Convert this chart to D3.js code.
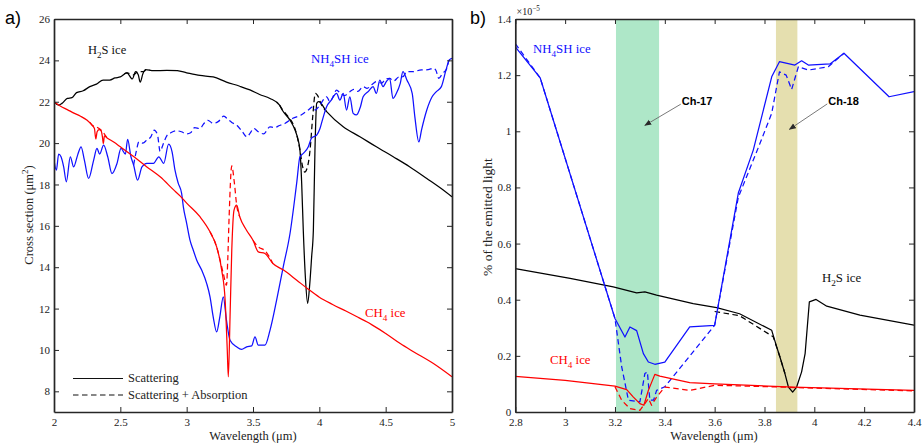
<!DOCTYPE html>
<html><head><meta charset="utf-8">
<script src="https://cdn.jsdelivr.net/npm/d3@7/dist/d3.min.js"></script>
<style>body{margin:0;background:#fff}svg{display:block}</style>
</head><body>
<svg id="c" width="924" height="447"></svg>
<script>
// ---------------- DATA: panel a) cross sections (wavelength µm, µm²) ----------------
const aH2S_scat = [[2.0,22.0],[2.035,21.84],[2.06,21.92],[2.10,22.16],[2.135,22.2],[2.17,22.44],[2.22,22.53],[2.27,22.73],[2.32,22.85],[2.37,23.05],[2.42,23.05],[2.46,23.15],[2.50,23.2],[2.55,23.4],[2.59,23.1],[2.615,23.45],[2.635,23.3],[2.65,22.95],[2.67,23.35],[2.69,23.55],[2.75,23.5],[2.85,23.52],[2.93,23.5],[3.0,23.4],[3.1,23.27],[3.2,23.2],[3.3,22.95],[3.4,22.75],[3.477,22.57],[3.55,22.35],[3.628,22.16],[3.70,21.84],[3.72,21.6],[3.78,21.1],[3.817,20.63],[3.84,20.15],[3.854,19.66],[3.867,18.05],[3.879,15.79],[3.895,13.5],[3.912,12.25],[3.928,13.2],[3.942,14.5],[3.955,15.79],[3.967,19.66],[3.98,21.92],[3.995,22.0],[4.055,21.52],[4.18,20.79],[4.306,20.31],[4.43,19.82],[4.557,19.34],[4.68,18.86],[4.81,18.29],[4.934,17.73],[5.0,17.4]];
const aH2S_abs = [[2.53,23.35],[2.55,23.4],[2.6,23.3],[2.63,23.45],[2.67,23.45],[2.70,23.55],[2.72,23.52],
  null,[3.70,21.84],[3.716,21.68],[3.766,21.27],[3.80,20.95],[3.83,20.4],[3.854,19.66],[3.874,18.86],[3.89,18.6],[3.907,18.77],[3.93,19.66],[3.95,21.27],[3.97,22.4],[3.985,22.32],[4.017,21.84],[4.055,21.52]];
const aCH4_scat = [[2.0,22.0],[2.05,21.78],[2.1,21.62],[2.15,21.45],[2.2,21.3],[2.25,21.1],[2.29,20.85],[2.305,20.7],[2.315,20.2],[2.325,20.55],[2.34,20.65],[2.355,20.6],[2.365,20.3],[2.372,19.98],[2.38,20.35],[2.4,20.25],[2.45,20.05],[2.5,19.82],[2.6,19.35],[2.7,18.85],[2.8,18.37],[2.9,17.75],[2.95,17.45],[3.0,17.1],[3.1,16.44],[3.176,15.71],[3.226,14.98],[3.264,13.86],[3.29,12.4],[3.306,10.0],[3.314,8.7],[3.327,11.6],[3.34,14.82],[3.357,16.76],[3.377,17.0],[3.40,16.44],[3.45,15.8],[3.50,15.3],[3.54,14.74],[3.59,14.66],[3.65,14.18],[3.73,13.86],[3.83,13.37],[3.91,12.97],[4.0,12.55],[4.1,12.2],[4.2,11.88],[4.3,11.55],[4.357,11.36],[4.4,11.2],[4.5,10.8],[4.61,10.31],[4.7,9.95],[4.86,9.34],[5.0,8.7]];
const aCH4_abs = [[2.27,21.0],[2.29,20.85],[2.32,20.78],[2.36,20.6],[2.4,20.25],null,
  [3.176,15.71],[3.226,14.98],[3.276,13.7],[3.30,13.13],[3.31,14.4],[3.32,16.44],[3.34,18.9],[3.36,18.05],[3.377,17.0],[3.40,16.44],null,
  [3.50,15.3],[3.54,14.98],[3.59,14.8],[3.65,14.18]];
const aNH4SH_scat = [[2.0,19.18],[2.018,18.69],[2.035,19.47],[2.053,19.34],[2.073,18.85],[2.093,18.13],[2.123,19.34],[2.148,18.85],[2.178,19.42],[2.204,19.82],[2.229,19.18],[2.261,18.29],[2.299,19.18],[2.324,19.74],[2.344,19.47],[2.374,19.9],[2.405,19.34],[2.437,18.53],[2.475,19.02],[2.505,19.74],[2.538,19.47],[2.555,20.18],[2.58,19.34],[2.60,18.94],[2.63,18.21],[2.663,18.85],[2.70,19.02],[2.75,19.02],[2.79,19.34],[2.827,19.02],[2.864,19.95],[2.89,19.58],[2.912,18.69],[2.937,18.05],[2.962,17.57],[2.975,16.92],[3.0,16.12],[3.025,15.31],[3.05,14.82],[3.076,14.34],[3.113,13.86],[3.151,13.21],[3.176,12.57],[3.2,11.6],[3.226,10.87],[3.25,11.6],[3.276,12.57],[3.30,11.44],[3.327,10.47],[3.377,10.15],[3.414,10.03],[3.452,10.15],[3.49,10.2],[3.515,10.63],[3.54,10.23],[3.59,10.23],[3.628,10.95],[3.678,12.41],[3.728,14.02],[3.779,15.63],[3.829,18.05],[3.854,19.34],[3.879,19.5],[3.917,19.82],[3.94,20.23],[3.98,20.39],[4.005,20.71],[4.03,21.27],[4.055,21.76],[4.09,22.08],[4.13,22.4],[4.155,22.08],[4.18,22.4],[4.205,21.6],[4.23,22.24],[4.255,21.44],[4.28,21.36],[4.31,21.76],[4.33,22.24],[4.37,22.5],[4.405,22.73],[4.43,22.4],[4.456,23.05],[4.48,22.73],[4.505,22.97],[4.53,23.13],[4.555,22.16],[4.58,22.4],[4.61,22.89],[4.63,23.46],[4.66,23.05],[4.70,22.4],[4.72,21.27],[4.75,20.06],[4.77,20.63],[4.81,21.6],[4.85,22.24],[4.88,22.48],[4.92,22.73],[4.955,23.54],[4.98,24.02],[5.0,24.1]];
const aNH4SH_abs = [[2.60,18.94],[2.62,19.6],[2.64,20.06],[2.67,20.0],[2.70,20.15],[2.73,20.3],[2.755,20.63],[2.78,20.4],[2.80,19.6],[2.82,19.9],[2.85,20.35],[2.88,20.5],[2.92,20.6],[2.96,20.55],[3.0,20.45],[3.03,20.5],[3.06,20.75],[3.1,20.7],[3.13,20.95],[3.16,21.1],[3.2,20.95],[3.24,21.05],[3.28,21.3],[3.31,21.15],[3.34,21.0],[3.38,20.85],[3.42,20.55],[3.455,20.3],[3.48,20.5],[3.505,20.71],[3.54,20.55],[3.58,20.45],[3.628,20.79],[3.66,20.75],[3.70,20.85],[3.74,20.95],[3.80,21.2],[3.86,21.35],[3.917,21.6],[3.95,21.75],[3.97,21.6],[4.0,21.8],[4.055,22.24],[4.08,22.0],[4.1,22.2],[4.13,22.56],[4.16,22.4],[4.19,22.3],[4.23,22.48],[4.26,22.6],[4.29,22.5],[4.33,22.73],[4.36,22.65],[4.4,22.85],[4.43,22.97],[4.47,22.9],[4.5,23.1],[4.53,23.13],[4.56,23.0],[4.6,23.2],[4.63,23.21],[4.66,23.46],[4.70,23.45],[4.77,23.54],[4.82,23.55],[4.86,23.62],[4.88,23.5],[4.90,23.13],[4.93,23.38],[4.96,23.6],[4.98,24.02],[5.0,24.05]];

// ---------------- DATA: panel b) % of emitted light (×1e-5) ----------------
const bH2S_scat = [[2.8,0.511],[3.02,0.476],[3.193,0.446],[3.287,0.424],[3.32,0.428],[3.367,0.416],[3.514,0.386],[3.608,0.372],[3.70,0.35],[3.829,0.291],[3.849,0.232],[3.862,0.196],[3.882,0.137],[3.896,0.089],[3.913,0.071],[3.929,0.089],[3.949,0.143],[3.963,0.208],[3.98,0.392],[4.007,0.401],[4.05,0.377],[4.183,0.345],[4.4,0.309]];
const bH2S_abs = [[3.6,0.358],[3.7,0.343],[3.835,0.268],[3.862,0.196],[3.882,0.137]];
const bCH4_scat = [[2.8,0.127],[3.0,0.113],[3.2,0.092],[3.247,0.08],[3.274,0.053],[3.30,0.030],[3.316,0.024],[3.334,0.077],[3.36,0.134],[3.38,0.128],[3.5,0.105],[3.6,0.10],[3.916,0.089],[4.4,0.077]];
const bCH4_abs = [[3.2,0.09],[3.227,0.042],[3.26,0.012],[3.30,0.006],[3.32,0.03],[3.334,0.048],[3.347,0.024],[3.367,0.053],[3.40,0.089],[3.5,0.077],[3.6,0.095],[3.7,0.093],[4.4,0.075]];
const bNH4SH_scat = [[2.8,1.301],[2.9,1.19],[3.2,0.333],[3.24,0.267],[3.26,0.303],[3.287,0.29],[3.314,0.208],[3.334,0.178],[3.36,0.170],[3.40,0.178],[3.5,0.303],[3.6,0.309],[3.695,0.78],[3.755,0.933],[3.829,1.194],[3.86,1.248],[3.922,1.236],[3.949,1.251],[3.976,1.236],[4.063,1.24],[4.119,1.278],[4.30,1.123],[4.4,1.141]];
const bNH4SH_abs = [[2.8,1.312],[2.9,1.19],[3.2,0.333],[3.227,0.161],[3.254,0.042],[3.30,0.036],[3.32,0.137],[3.33,0.143],[3.34,0.042],[3.355,0.042],[3.367,0.077],[3.40,0.09],[3.6,0.309],[3.695,0.765],[3.782,0.957],[3.829,1.064],[3.86,1.212],[3.887,1.2],[3.909,1.149],[3.936,1.23],[3.976,1.218],[4.056,1.23],[4.119,1.278]];

// channel bands (µm)
const bandCh17 = [3.204, 3.377];
const bandCh18 = [3.846, 3.932];

// ticks
const aXTicks = [2, 2.5, 3, 3.5, 4, 4.5, 5];
const aYTicks = [8, 10, 12, 14, 16, 18, 20, 22, 24, 26];
const bXTicks = [2.8, 3, 3.2, 3.4, 3.6, 3.8, 4, 4.2, 4.4];
const bYTicks = [0, 0.2, 0.4, 0.6, 0.8, 1, 1.2, 1.4];

// ---------------- DRAWING ----------------
const svg = d3.select('#c');
const SERIF = '"Liberation Serif", "Times New Roman", serif';
const BLUE = '#1010ff', RED = '#ff0000', BLACK = '#000000';

const xa = d3.scaleLinear([2, 5], [54, 452]);
const ya = d3.scaleLinear([7, 26], [412, 19]);
const xb = d3.scaleLinear([2.8, 4.4], [515.3, 914]);
const yb = d3.scaleLinear([0, 1.4], [412, 19]);

const defs = svg.append('defs');
function clip(id, x, y) {
  defs.append('clipPath').attr('id', id).append('rect')
    .attr('x', x.range()[0]).attr('y', y.range()[1])
    .attr('width', x.range()[1] - x.range()[0]).attr('height', y.range()[0] - y.range()[1]);
}
clip('ca', xa, ya); clip('cb', xb, yb);
defs.append('marker').attr('id', 'arr').attr('viewBox', '0 0 10 10')
  .attr('refX', 9).attr('refY', 5).attr('markerWidth', 7).attr('markerHeight', 7)
  .attr('markerUnits', 'userSpaceOnUse').attr('orient', 'auto')
  .append('path').attr('d', 'M0,1 L10,5 L0,9 Z').attr('fill', '#2a2a2a');

function drawSeries(g, data, x, y, color, dashed, curve) {
  const line = d3.line().defined(d => d !== null).x(d => x(d[0])).y(d => y(d[1])).curve(curve);
  g.append('path').attr('d', line(data)).attr('fill', 'none')
    .attr('stroke', color).attr('stroke-width', 1.25)
    .attr('stroke-linejoin', 'round')
    .attr('stroke-dasharray', dashed ? '5.5,3.5' : null);
}

function drawAxes(x, y, xt, yt) {
  const style = sel => {
    sel.select('.domain').attr('stroke', '#262626').attr('stroke-width', 1.7);
    sel.selectAll('.tick line').attr('stroke', '#262626').attr('stroke-width', 1);
    sel.selectAll('text').attr('font-family', SERIF).attr('font-size', 11).attr('fill', '#222');
  };
  svg.append('g').attr('transform', `translate(0,${y.range()[0]})`)
    .call(d3.axisBottom(x).tickValues(xt).tickSize(-5).tickSizeOuter(0).tickPadding(6).tickFormat(d => String(d))).call(style);
  svg.append('g').attr('transform', `translate(0,${y.range()[1]})`)
    .call(d3.axisTop(x).tickValues(xt).tickSize(-5).tickSizeOuter(0).tickFormat('')).call(style);
  svg.append('g').attr('transform', `translate(${x.range()[0]},0)`)
    .call(d3.axisLeft(y).tickValues(yt).tickSize(-5).tickSizeOuter(0).tickPadding(4).tickFormat(d => String(d))).call(style);
  svg.append('g').attr('transform', `translate(${x.range()[1]},0)`)
    .call(d3.axisRight(y).tickValues(yt).tickSize(-5).tickSizeOuter(0).tickFormat('')).call(style);
}

// label with sub/superscripts: parts = [[text, 0 normal | 1 sub | 2 sup], ...]
function richText(g, x, y, parts, color, size, opts = {}) {
  const t = g.append('text').attr('x', x).attr('y', y).attr('fill', color)
    .attr('font-family', opts.family || SERIF).attr('font-size', size);
  if (opts.anchor) t.attr('text-anchor', opts.anchor);
  if (opts.rotate) t.attr('transform', `rotate(-90,${x},${y})`);
  let shift = 0;
  parts.forEach(([s, k]) => {
    const target = k === 1 ? size * 0.3 : k === 2 ? -size * 0.38 : 0;
    t.append('tspan').attr('dy', target - shift).attr('font-size', k ? size * 0.72 : size).text(s);
    shift = target;
  });
  return t;
}

// ---- panel a ----
const ga = svg.append('g').attr('clip-path', 'url(#ca)');
const cA = d3.curveMonotoneX;
drawSeries(ga, aH2S_scat, xa, ya, BLACK, false, cA);
drawSeries(ga, aH2S_abs, xa, ya, BLACK, true, cA);
drawSeries(ga, aNH4SH_scat, xa, ya, BLUE, false, cA);
drawSeries(ga, aNH4SH_abs, xa, ya, BLUE, true, cA);
drawSeries(ga, aCH4_scat, xa, ya, RED, false, cA);
drawSeries(ga, aCH4_abs, xa, ya, RED, true, cA);
drawAxes(xa, ya, aXTicks, aYTicks);

richText(svg, 88, 54, [['H', 0], ['2', 1], ['S ice', 0]], '#111', 12.5);
richText(svg, 311, 63, [['NH', 0], ['4', 1], ['SH ice', 0]], BLUE, 12.8);
richText(svg, 365, 317, [['CH', 0], ['4', 1], [' ice', 0]], RED, 12.8);

// legend
const lg = svg.append('g');
lg.append('line').attr('x1', 73).attr('x2', 123).attr('y1', 378.5).attr('y2', 378.5).attr('stroke', '#111').attr('stroke-width', 1.2);
lg.append('line').attr('x1', 73).attr('x2', 123).attr('y1', 395).attr('y2', 395).attr('stroke', '#111').attr('stroke-width', 1.2).attr('stroke-dasharray', '5.5,3.5');
lg.append('text').attr('x', 128).attr('y', 382).attr('font-family', SERIF).attr('font-size', 12.5).attr('fill', '#222').text('Scattering');
lg.append('text').attr('x', 128).attr('y', 398.5).attr('font-family', SERIF).attr('font-size', 12.5).attr('fill', '#222').text('Scattering + Absorption');

richText(svg, 33, 215, [['Cross section (μm', 0], ['2', 2], [')', 0]], '#222', 12.5, { anchor: 'middle', rotate: true });
svg.append('text').attr('x', 253).attr('y', 440).attr('text-anchor', 'middle').attr('font-family', SERIF).attr('font-size', 12.5).attr('fill', '#222').text('Wavelength (μm)');
svg.append('text').attr('x', 5).attr('y', 24).attr('font-family', '"Liberation Sans", Arial, sans-serif').attr('font-size', 18).attr('fill', '#000').text('a)');

// ---- panel b ----
const gb = svg.append('g').attr('clip-path', 'url(#cb)');
gb.append('rect').attr('x', xb(bandCh17[0])).attr('width', xb(bandCh17[1]) - xb(bandCh17[0]))
  .attr('y', yb.range()[1]).attr('height', yb.range()[0] - yb.range()[1]).attr('fill', '#aee7c8');
gb.append('rect').attr('x', xb(bandCh18[0])).attr('width', xb(bandCh18[1]) - xb(bandCh18[0]))
  .attr('y', yb.range()[1]).attr('height', yb.range()[0] - yb.range()[1]).attr('fill', '#e5dfaf');
const cB = d3.curveLinear;
drawSeries(gb, bH2S_scat, xb, yb, BLACK, false, cB);
drawSeries(gb, bH2S_abs, xb, yb, BLACK, true, cB);
drawSeries(gb, bNH4SH_scat, xb, yb, BLUE, false, cB);
drawSeries(gb, bNH4SH_abs, xb, yb, BLUE, true, cB);
drawSeries(gb, bCH4_scat, xb, yb, RED, false, cB);
drawSeries(gb, bCH4_abs, xb, yb, RED, true, cB);
drawAxes(xb, yb, bXTicks, bYTicks);

// annotations (positions in data coordinates)
function annot(label, tx, ty, ax, ay) {
  svg.append('line').attr('x1', xb(tx) - 1).attr('y1', yb(ty) - 1).attr('x2', xb(ax)).attr('y2', yb(ay))
    .attr('stroke', '#6a6a6a').attr('stroke-width', 0.9).attr('marker-end', 'url(#arr)');
  svg.append('text').attr('x', xb(tx)).attr('y', yb(ty)).attr('font-family', '"Liberation Sans", Arial, sans-serif')
    .attr('font-weight', 'bold').attr('font-size', 11).attr('fill', '#000').text(label);
}
annot('Ch-17', 3.468, 1.093, 3.32, 1.021);
annot('Ch-18', 4.056, 1.094, 3.90, 1.007);

richText(svg, 533, 53, [['NH', 0], ['4', 1], ['SH ice', 0]], BLUE, 12.8);
richText(svg, 822, 282, [['H', 0], ['2', 1], ['S ice', 0]], '#111', 12.8);
richText(svg, 550, 364, [['CH', 0], ['4', 1], [' ice', 0]], RED, 12.8);

richText(svg, 492, 217, [['% of the emitted light', 0]], '#222', 13.5, { anchor: 'middle', rotate: true });
svg.append('text').attr('x', 714).attr('y', 440).attr('text-anchor', 'middle').attr('font-family', SERIF).attr('font-size', 12.5).attr('fill', '#222').text('Wavelength (μm)');
richText(svg, 516.5, 15, [['×10', 0], ['−5', 2]], '#222', 10);
svg.append('text').attr('x', 470).attr('y', 24).attr('font-family', '"Liberation Sans", Arial, sans-serif').attr('font-size', 18).attr('fill', '#000').text('b)');
</script>
</body></html>
